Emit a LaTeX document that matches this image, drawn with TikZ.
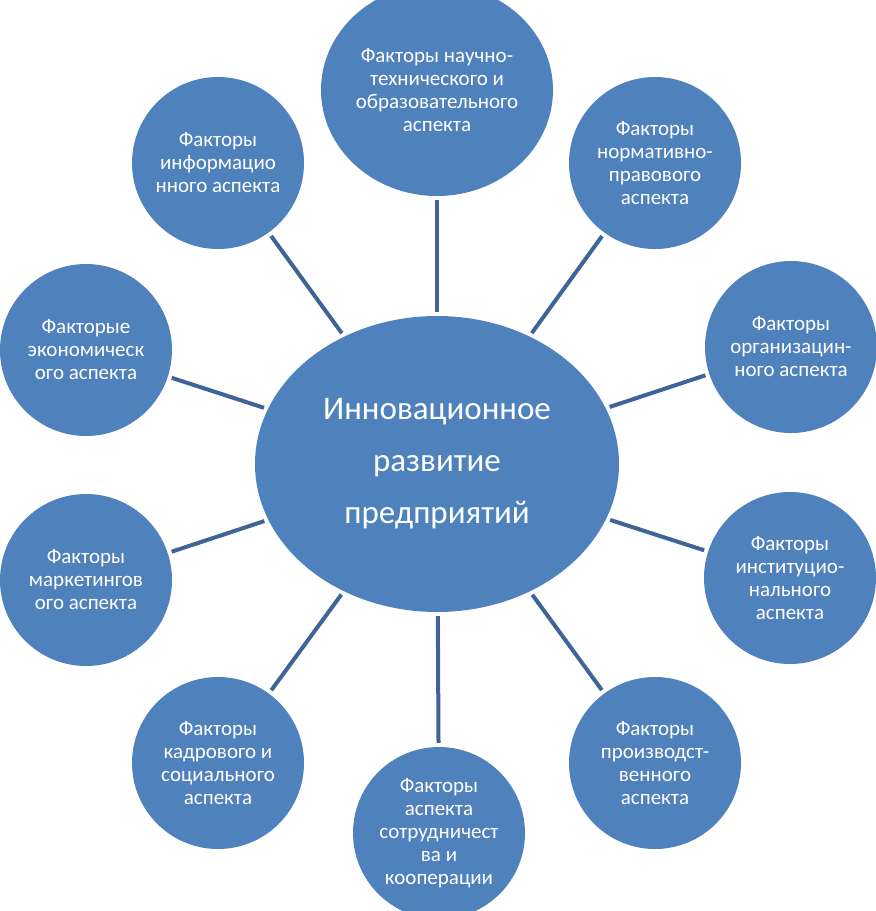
\documentclass[tikz,border=0pt]{standalone}
\usepackage{fontspec}
\setmainfont{Carlito}
\usetikzlibrary{shapes.geometric}
\definecolor{fillblue}{HTML}{4F81BD}
\definecolor{lineblue}{HTML}{3F6498}
\begin{document}
\begin{tikzpicture}[x=1pt,y=-1pt,
  bubble/.style={circle, fill=fillblue, text=white, inner sep=0pt, minimum size=172pt, align=center, font=\fontsize{21}{23}\selectfont},
  link/.style={draw=lineblue, line width=4pt, shorten <=4pt, shorten >=4pt}]
\useasboundingbox (0,0) rectangle (876,911);
\node[ellipse, fill=fillblue, text=white, inner sep=0pt, minimum width=364pt, minimum height=296pt, align=center, font=\fontsize{33}{52}\selectfont] (c) at (437,464) {Инновационное\\развитие\\предприятий};
\node[ellipse, fill=fillblue, text=white, inner sep=0pt, minimum width=232pt, minimum height=212pt, align=center, font=\fontsize{21}{23}\selectfont] (top) at (437,90) {Факторы научно-\\технического и\\образовательного\\аспекта};
\node[bubble] (tl) at (218,163) {Факторы\\информацио\\нного аспекта};
\node[bubble] (tr) at (655,163) {Факторы\\нормативно-\\правового\\аспекта};
\node[bubble] (r1) at (791,347) {Факторы\\организацин-\\ного аспекта};
\node[bubble] (r2) at (790,578) {Факторы\\институцио-\\нального\\аспекта};
\node[bubble] (br) at (655,763) {Факторы\\производст-\\венного\\аспекта};
\node[bubble] (b) at (439,833) {Факторы\\аспекта\\сотрудничест\\ва и\\кооперации};
\node[bubble] (bl) at (218,763) {Факторы\\кадрового и\\социального\\аспекта};
\node[bubble] (l2) at (86,580) {Факторы\\маркетингов\\ого аспекта};
\node[bubble] (l1) at (86,350) {Факторые\\экономическ\\ого аспекта};
\foreach \n in {top,tl,tr,r1,r2,br,b,bl,l2,l1} {\draw[link] (c) -- (\n);}
\end{tikzpicture}
\end{document}
